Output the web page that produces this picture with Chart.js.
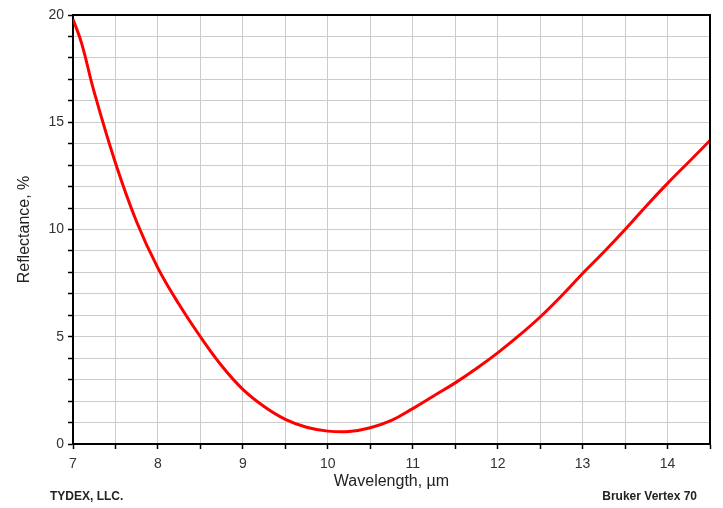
<!DOCTYPE html>
<html>
<head>
<meta charset="utf-8">
<script src="https://cdn.jsdelivr.net/npm/chart.js@4"></script>
<style>
  html, body { margin: 0; padding: 0; background: #fff; }
  #wrap { width: 723px; height: 508px; }
</style>
</head>
<body>
<div id="wrap"><canvas id="grafica" width="723" height="508"></canvas></div>
<script>
// datos
const longitudes = [7.0, 7.1, 7.25, 7.5, 7.75, 8.0, 8.25, 8.5, 8.75, 9.0, 9.25, 9.5, 9.75, 10.0, 10.25, 10.5, 10.75, 11.0, 11.25, 11.5, 11.75, 12.0, 12.25, 12.5, 12.75, 13.0, 13.25, 13.5, 13.75, 14.0, 14.25, 14.5];
const reflectancia = [19.8, 18.7, 16.4, 13.1, 10.35, 8.2, 6.5, 5.0, 3.65, 2.55, 1.75, 1.15, 0.78, 0.6, 0.58, 0.76, 1.1, 1.65, 2.25, 2.85, 3.52, 4.25, 5.05, 5.92, 6.9, 7.95, 8.95, 10.0, 11.1, 12.15, 13.15, 14.15];
const etiquetasX = [7, 8, 9, 10, 11, 12, 13, 14];
const etiquetasY = [0, 5, 10, 15, 20];

const fuente = "'Liberation Sans', Arial, sans-serif";

// borde negro arriba y derecha + textos del pie
const marco = {
  id: "marco",
  afterDraw(chart) {
    const { ctx, chartArea: a } = chart;
    ctx.save();
    ctx.strokeStyle = "#000";
    ctx.lineWidth = 2;
    ctx.beginPath();
    ctx.moveTo(a.left, a.top);
    ctx.lineTo(a.right, a.top);
    ctx.lineTo(a.right, a.bottom);
    ctx.stroke();
    ctx.fillStyle = "#222";
    ctx.font = "bold 12px " + fuente;
    ctx.textBaseline = "middle";
    ctx.textAlign = "left";
    ctx.fillText("TYDEX, LLC.", 50, 497);
    ctx.textAlign = "right";
    ctx.fillText("Bruker Vertex 70", 697, 497);
    ctx.restore();
  }
};

new Chart(document.getElementById("grafica"), {
  type: "line",
  data: {
    datasets: [{
      data: longitudes.map((x, i) => ({ x, y: reflectancia[i] })),
      borderColor: "#ff0000",
      borderWidth: 3,
      pointRadius: 0,
      tension: 0.4,
      fill: false
    }]
  },
  options: {
    responsive: false,
    animation: false,
    layout: { padding: { top: 15, right: 13, bottom: 0, left: 0 } },
    plugins: { legend: { display: false }, tooltip: { enabled: false } },
    scales: {
      x: {
        type: "linear",
        min: 7,
        max: 14.5,
        afterFit(s) { s.height = 64; },
        ticks: {
          stepSize: 0.5,
          autoSkip: false,
          maxRotation: 0,
          padding: 7,
          color: "#333",
          font: { family: fuente, size: 14 },
          callback: v => etiquetasX.includes(v) ? String(v) : ""
        },
        grid: { color: "#cccccc", lineWidth: 1, tickColor: "#000", tickLength: 5, tickWidth: 1.5 },
        border: { color: "#000", width: 2 },
        title: {
          display: true,
          text: "Wavelength, µm",
          color: "#222",
          font: { family: fuente, size: 16 },
          padding: { top: 0, bottom: 17 }
        }
      },
      y: {
        min: 0,
        max: 20,
        afterFit(s) { s.width = 73; },
        ticks: {
          stepSize: 1,
          autoSkip: false,
          padding: 4,
          color: "#333",
          font: { family: fuente, size: 14 },
          callback: v => etiquetasY.includes(v) ? String(v) : ""
        },
        grid: { color: "#cccccc", lineWidth: 1, tickColor: "#000", tickLength: 5, tickWidth: 1.5 },
        border: { color: "#000", width: 2 },
        title: {
          display: true,
          text: "Reflectance, %",
          color: "#222",
          font: { family: fuente, size: 16 },
          padding: { top: 15, bottom: 0 }
        }
      }
    }
  },
  plugins: [marco]
});
</script>
</body>
</html>
